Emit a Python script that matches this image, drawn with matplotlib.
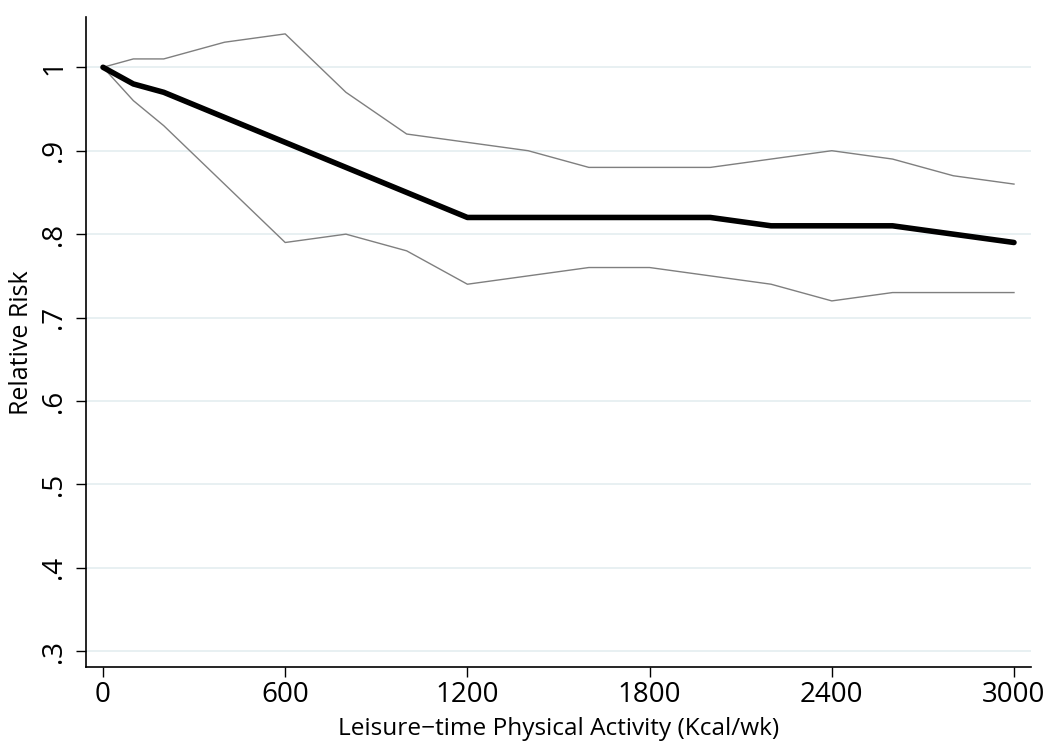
import matplotlib
matplotlib.use('Agg')
import matplotlib.pyplot as plt

# Leisure-time physical activity (Kcal/wk) and relative risk with CI
kcal = [0, 100, 200, 400, 600, 800, 1000, 1200, 1400, 1600, 1800, 2000, 2200, 2400, 2600, 2800, 3000]
rr = [1.00, 0.98, 0.97, 0.94, 0.91, 0.88, 0.85, 0.82, 0.82, 0.82, 0.82, 0.82, 0.81, 0.81, 0.81, 0.80, 0.79]
rr_upper = [1.00, 1.01, 1.01, 1.03, 1.04, 0.97, 0.92, 0.91, 0.90, 0.88, 0.88, 0.88, 0.89, 0.90, 0.89, 0.87, 0.86]
rr_lower = [1.00, 0.96, 0.93, 0.86, 0.79, 0.80, 0.78, 0.74, 0.75, 0.76, 0.76, 0.75, 0.74, 0.72, 0.73, 0.73, 0.73]

xticks = [0, 600, 1200, 1800, 2400, 3000]
yticks = [0.3, 0.4, 0.5, 0.6, 0.7, 0.8, 0.9, 1.0]
ytick_labels = ['.3', '.4', '.5', '.6', '.7', '.8', '.9', '1']

plt.rcParams['font.family'] = ['Open Sans', 'DejaVu Sans']

fig = plt.figure(figsize=(10.5, 7.48), dpi=100)
ax = fig.add_axes([0.0819, 0.108, 0.9, 0.869])

ax.plot(kcal, rr_upper, color='#7f7f7f', lw=1.0)
ax.plot(kcal, rr_lower, color='#7f7f7f', lw=1.0)
ax.plot(kcal, rr, color='black', lw=4.0, solid_capstyle='round', solid_joinstyle='round')

ax.set_xlim(-56, 3056)
ax.set_ylim(0.281, 1.06)
ax.set_xticks(xticks)
ax.set_yticks(yticks)
ax.set_yticklabels(ytick_labels, rotation=90, va='center')

ax.grid(axis='y', color='#e6eff1', lw=1.3)
ax.set_axisbelow(True)
for s in ['top', 'right']:
    ax.spines[s].set_visible(False)
for s in ['left', 'bottom']:
    ax.spines[s].set_linewidth(1.2)

ax.tick_params(axis='both', direction='out', length=7, width=1.0, labelsize=20)
ax.tick_params(axis='x', pad=3)
ax.tick_params(axis='y', pad=6)

ax.set_xlabel('Leisure\u2212time Physical Activity (Kcal/wk)', fontsize=17.6, labelpad=6)
ax.set_ylabel('Relative Risk', fontsize=18, labelpad=4)

fig.savefig('out.png', dpi=100, facecolor='white')
